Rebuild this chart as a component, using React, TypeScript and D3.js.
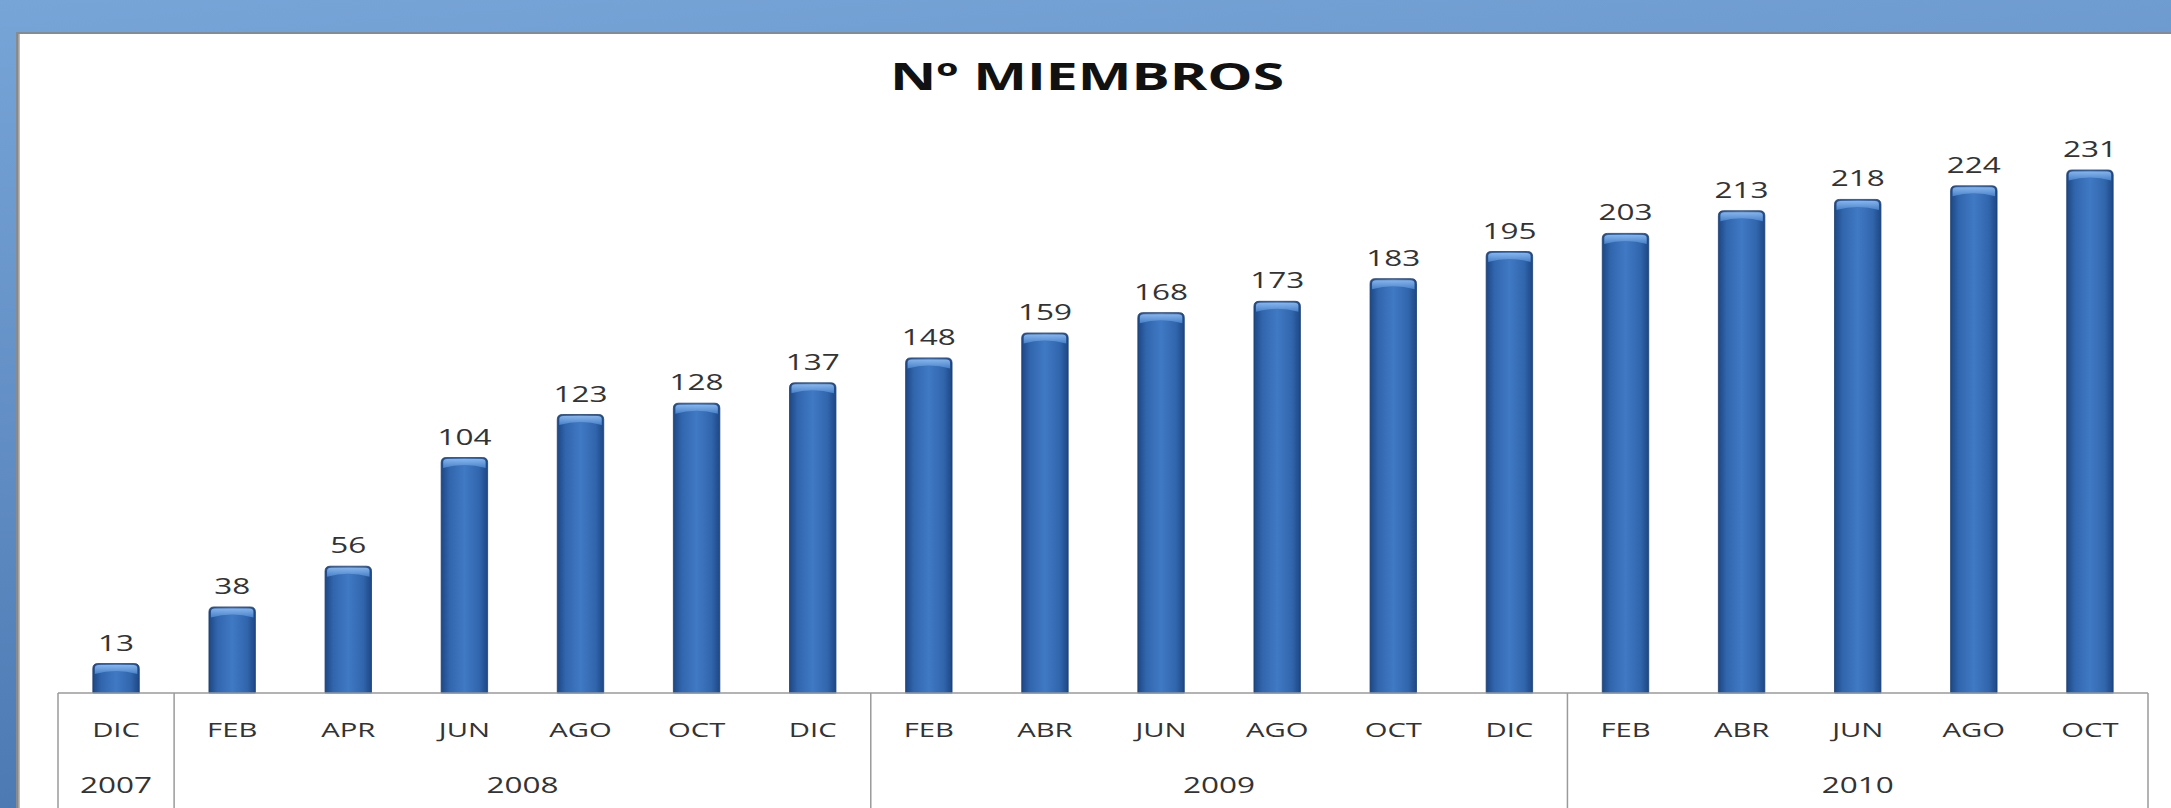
import { useEffect, useRef } from 'react'
import * as d3 from 'd3'

const MONTHS = ['DIC', 'FEB', 'APR', 'JUN', 'AGO', 'OCT', 'DIC', 'FEB', 'ABR', 'JUN', 'AGO', 'OCT', 'DIC', 'FEB', 'ABR', 'JUN', 'AGO', 'OCT']
const MEMBERS = [13, 38, 56, 104, 123, 128, 137, 148, 159, 168, 173, 183, 195, 203, 213, 218, 224, 231]
const YEARS = ['2007', '2008', '2009', '2010']
// how many months each year spans in the table
const YEAR_SPANS = [1, 6, 6, 5]

const WIDTH = 2171
const HEIGHT = 808
const STRETCH = 1.5

export default function App() {
  const svgRef = useRef<SVGSVGElement | null>(null)

  useEffect(() => {
    if (!svgRef.current) {
      return
    }

    const svg = d3.select(svgRef.current)
    svg.selectAll('*').remove()
    svg.attr('viewBox', `0 0 ${WIDTH} ${HEIGHT}`)

    const tableLeft = 58
    const tableRight = 2148
    const baseY = 693
    const plotTop = 170

    const x = d3
      .scaleBand<number>()
      .domain(MONTHS.map((_, i) => i))
      .range([tableLeft, tableRight])
      .paddingInner(0.6)
      .paddingOuter(0.3)

    const y = d3
      .scaleLinear()
      .domain([0, 231])
      .range([baseY, plotTop])

    const defs = svg.append('defs')

    const bg = defs
      .append('linearGradient')
      .attr('id', 'bg-grad')
      .attr('x1', 0)
      .attr('y1', 0)
      .attr('x2', 0.2)
      .attr('y2', 1)
    bg.append('stop').attr('offset', '0%').attr('stop-color', '#78a5d8')
    bg.append('stop').attr('offset', '100%').attr('stop-color', '#4c78b2')

    const barGrad = defs
      .append('linearGradient')
      .attr('id', 'bar-grad')
      .attr('x1', 0)
      .attr('y1', 0)
      .attr('x2', 1)
      .attr('y2', 0)
    barGrad.append('stop').attr('offset', '0%').attr('stop-color', '#1d4784')
    barGrad.append('stop').attr('offset', '18%').attr('stop-color', '#3166ad')
    barGrad.append('stop').attr('offset', '50%').attr('stop-color', '#4079c4')
    barGrad.append('stop').attr('offset', '82%').attr('stop-color', '#3166ad')
    barGrad.append('stop').attr('offset', '100%').attr('stop-color', '#1d4784')

    const capGrad = defs
      .append('linearGradient')
      .attr('id', 'cap-grad')
      .attr('x1', 0)
      .attr('y1', 0)
      .attr('x2', 0)
      .attr('y2', 1)
    capGrad.append('stop').attr('offset', '0%').attr('stop-color', '#8fbcf0')
    capGrad.append('stop').attr('offset', '100%').attr('stop-color', '#4a85d0')

    const shadow = defs
      .append('linearGradient')
      .attr('id', 'panel-shadow')
      .attr('x1', 0)
      .attr('y1', 0)
      .attr('x2', 1)
      .attr('y2', 0)
    shadow.append('stop').attr('offset', '0%').attr('stop-color', '#7a7a7a')
    shadow.append('stop').attr('offset', '100%').attr('stop-color', '#ffffff')

    // slide background
    svg.append('rect').attr('width', WIDTH).attr('height', HEIGHT).attr('fill', 'url(#bg-grad)')

    // white chart panel
    svg
      .append('rect')
      .attr('x', 16)
      .attr('y', 32)
      .attr('width', WIDTH - 16)
      .attr('height', HEIGHT - 32)
      .attr('fill', '#8a8a8a')
    svg
      .append('rect')
      .attr('x', 17)
      .attr('y', 34)
      .attr('width', 5)
      .attr('height', HEIGHT - 34)
      .attr('fill', 'url(#panel-shadow)')
    svg
      .append('rect')
      .attr('x', 20)
      .attr('y', 34)
      .attr('width', WIDTH - 20)
      .attr('height', HEIGHT - 34)
      .attr('fill', '#ffffff')

    // title
    svg
      .append('text')
      .attr('transform', `translate(${1087}, ${90}) scale(${STRETCH}, 1)`)
      .attr('text-anchor', 'middle')
      .attr('font-family', '"Open Sans", sans-serif')
      .attr('font-weight', 700)
      .attr('font-size', 38)
      .attr('fill', '#111111')
      .text('Nº MIEMBROS')

    const bars = svg.append('g')
    const bw = x.bandwidth()

    bars
      .selectAll('path.bar')
      .data(MEMBERS)
      .enter()
      .append('path')
      .attr('class', 'bar')
      .attr('d', (v: number, i: number) => {
        const x0 = x(i) as number
        const top = y(v)
        const r = 5
        return `M${x0},${baseY} L${x0},${top + r} Q${x0},${top} ${x0 + r},${top} L${x0 + bw - r},${top} Q${x0 + bw},${top} ${x0 + bw},${top + r} L${x0 + bw},${baseY} Z`
      })
      .attr('fill', 'url(#bar-grad)')
      .attr('stroke', '#1c3f72')
      .attr('stroke-width', 0.8)

    // light cap at the top of each bar
    bars
      .selectAll('path.cap')
      .data(MEMBERS)
      .enter()
      .append('path')
      .attr('class', 'cap')
      .attr('d', (v: number, i: number) => {
        const x0 = (x(i) as number) + 2
        const top = y(v) + 1.5
        const w = bw - 4
        return `M${x0},${top + 3} Q${x0},${top} ${x0 + 4},${top} L${x0 + w - 4},${top} Q${x0 + w},${top} ${x0 + w},${top + 3} L${x0 + w},${top + 9} Q${x0 + w / 2},${top + 3} ${x0},${top + 9} Z`
      })
      .attr('fill', 'url(#cap-grad)')
      .attr('opacity', 0.9)

    bars
      .selectAll('text.value')
      .data(MEMBERS)
      .enter()
      .append('text')
      .attr('class', 'value')
      .attr('transform', (v: number, i: number) =>
        `translate(${(x(i) as number) + bw / 2}, ${y(v) - 13}) scale(${STRETCH}, 1)`,
      )
      .attr('text-anchor', 'middle')
      .attr('font-family', '"Open Sans", sans-serif')
      .attr('font-size', 21)
      .attr('fill', '#333333')
      .text((v: number) => String(v))

    // category table
    const table = svg.append('g').attr('stroke', '#9a9a9a').attr('stroke-width', 1.5)
    table
      .append('line')
      .attr('x1', tableLeft)
      .attr('x2', tableRight)
      .attr('y1', baseY)
      .attr('y2', baseY)

    const step = x.step()
    const dividerIdx = YEAR_SPANS.reduce<number[]>((acc, span) => {
      const last = acc.length ? acc[acc.length - 1] : 0
      acc.push(last + span)
      return acc
    }, [])
    const dividers = [0, ...dividerIdx]

    table
      .selectAll('line.divider')
      .data(dividers)
      .enter()
      .append('line')
      .attr('class', 'divider')
      .attr('x1', (d: number) => tableLeft + d * step)
      .attr('x2', (d: number) => tableLeft + d * step)
      .attr('y1', baseY)
      .attr('y2', HEIGHT)

    svg
      .append('g')
      .selectAll('text.month')
      .data(MONTHS)
      .enter()
      .append('text')
      .attr('class', 'month')
      .attr('transform', (_: string, i: number) =>
        `translate(${(x(i) as number) + bw / 2}, ${737}) scale(${STRETCH}, 1)`,
      )
      .attr('text-anchor', 'middle')
      .attr('font-family', '"Open Sans", sans-serif')
      .attr('font-size', 19.5)
      .attr('fill', '#333333')
      .text((m: string) => m)

    svg
      .append('g')
      .selectAll('text.year')
      .data(YEARS)
      .enter()
      .append('text')
      .attr('class', 'year')
      .attr('transform', (_: string, i: number) => {
        const start = dividers[i]
        const end = dividers[i + 1]
        const cx = tableLeft + ((start + end) / 2) * step
        return `translate(${cx}, ${793}) scale(${STRETCH}, 1)`
      })
      .attr('text-anchor', 'middle')
      .attr('font-family', '"Open Sans", sans-serif')
      .attr('font-size', 21)
      .attr('fill', '#333333')
      .text((yr: string) => yr)
  }, [])

  return (
    <svg
      ref={svgRef}
      width={WIDTH}
      height={HEIGHT}
      style={{ position: 'absolute', left: 0, top: 0 }}
      role="img"
      aria-label="Número de miembros por mes, 2007 a 2010"
    />
  )
}
